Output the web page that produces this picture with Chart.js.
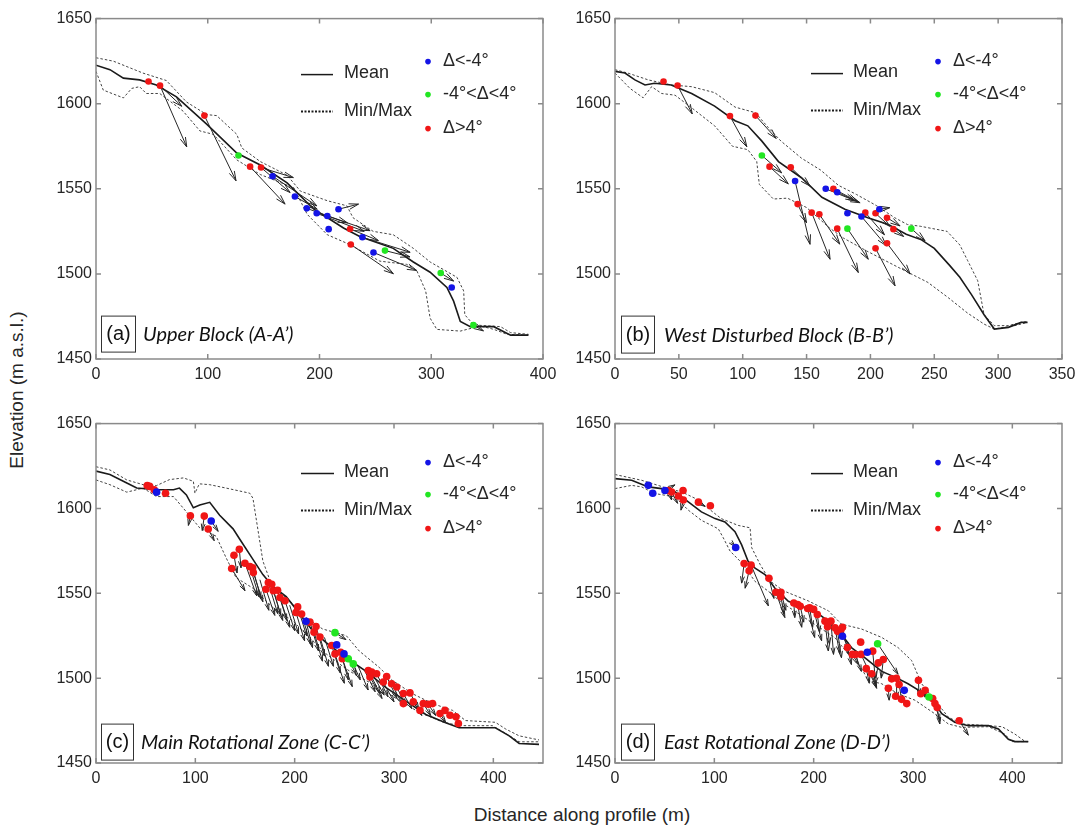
<!DOCTYPE html>
<html>
<head>
<meta charset="utf-8">
<script src="https://cdn.jsdelivr.net/npm/chart.js@4.4.0/dist/chart.umd.min.js"></script>
<style>
  body { margin: 0; background: #fff; width: 1083px; height: 833px; position: relative; overflow: hidden; font-family: "Liberation Sans", Arial, sans-serif; }
  canvas { position: absolute; }
  .axt { position: absolute; white-space: nowrap; color: #262626; font-size: 19px; transform: translate(-50%, -50%); }
  #ylab { left: 17px; top: 390px; transform: translate(-50%, -50%) rotate(-90deg); }
  #xlab { left: 582px; top: 815px; }
</style>
</head>
<body>
<canvas id="pa" width="527" height="384" style="left:36px;top:5px"></canvas>
<canvas id="pb" width="527" height="384" style="left:555px;top:5px"></canvas>
<canvas id="pc" width="527" height="383" style="left:36px;top:410px"></canvas>
<canvas id="pd" width="527" height="383" style="left:555px;top:410px"></canvas>
<div class="axt" id="ylab">Elevation (m a.s.l.)</div>
<div class="axt" id="xlab">Distance along profile (m)</div>
<script>
// ---- (a) Upper Block ----
var aMean = [[0,1622.6],[12.5,1620],[24.5,1615],[39,1614],[54,1611],[72,1604],[99,1588],[126,1571],[147,1564],[171,1553.5],[195,1538],[221.5,1527],[236,1522],[266,1515],[284,1507],[299,1501],[314,1492],[320,1484],[326,1472],[335,1469],[356,1469],[371,1464],[387,1464]];
var aMax = [[0,1627],[15.5,1625],[42,1618],[63,1613.6],[81,1601],[99,1593.6],[108,1593],[126,1582],[130.5,1574],[147,1566],[171,1558],[183,1548.6],[207,1543],[224.5,1540],[230,1533],[248,1525],[266,1523],[284,1515],[299,1507],[323,1498],[329,1490],[330,1476],[338,1470],[362,1469],[371,1465.5],[387,1464.5]];
var aMin = [[0,1619],[6.5,1608],[24.5,1603.4],[32,1609],[39,1610],[45,1606],[57,1606],[78,1595.6],[93,1584],[105,1582],[126,1567],[147,1558.4],[177,1550.6],[189,1535],[207,1523],[224.5,1518],[236,1514],[254,1507.5],[278,1505.6],[287,1502],[295,1490],[299,1474],[305,1467.4],[326,1466.4],[344,1469.4],[356,1467.4],[368,1464.5],[387,1464]];
var aBlue = [[158,1557.4],[178,1545.5],[188.6,1538.5],[197.5,1535.6],[207,1534],[208.2,1526.3],[217,1538],[238.4,1521.5],[248.3,1512.6],[318.3,1492]];
var aGreen = [[127.5,1569.6],[258.6,1513.7],[308.5,1500.5],[337.7,1469.9]];
var aRed = [[47,1613],[57.3,1610.6],[97,1593],[137.9,1563],[147.7,1562.5],[227.4,1526.4],[228,1517.3]];
var aArrows = [[57.3,1610.6,81.2,1574.6],[57.3,1610.6,76.7,1598.5],[97,1593,125.3,1554.7],[137.9,1563,169.2,1541],[147.7,1562.5,173.7,1547.8],[150,1562,176.6,1556.6],[158,1557.4,197.6,1540],[178,1545.5,198,1538],[188.6,1538.5,225,1530],[197.5,1535.6,240,1525],[207,1534,245.3,1525.4],[217,1538,234.9,1541],[227.4,1526.4,252.7,1519.6],[238.4,1521.5,281.1,1512.7],[228,1517.3,266.1,1500.1],[248.3,1512.6,287,1502],[258.6,1513.7,281,1510],[308.5,1500.5,320,1495.8],[337.7,1469.9,346.7,1466.5]];

// ---- (b) West Disturbed Block ----
var bMean = [[0,1619],[7.8,1618],[15.6,1614],[23.5,1611],[31,1612],[44,1611],[60,1606],[78,1598.6],[94,1590],[104,1587],[115,1578],[128,1566],[146,1556.5],[162,1545],[180,1538],[198,1533],[214,1529],[228,1523.3],[240,1520],[250,1515],[262,1505],[270,1498],[279,1488],[289,1476],[297,1467.6],[308,1468.6],[318,1471.5],[323,1471.5]];
var bMax = [[0,1620],[10,1618],[26,1614],[44,1611],[60,1610],[78,1606.5],[94,1598],[110,1594.7],[120,1586],[130,1578],[146,1568],[161,1561],[175,1552],[189,1546.7],[205,1540],[219,1533],[229,1529],[239,1528],[260,1525],[270,1517],[276,1508],[284,1496],[289,1476],[297,1469.6],[308,1469.6],[318,1471.5],[323,1472]];
var bMin = [[0,1618],[11.7,1609],[22,1603.5],[28.7,1610],[36.5,1606],[47,1605],[60,1597.6],[78,1587],[92,1575],[104,1573],[111,1566],[113,1552.6],[124,1544],[135,1544.5],[150,1539],[168,1527],[179,1521],[197,1513.5],[224,1503],[245,1495],[261,1486],[276,1477],[289,1470.5],[297,1467.6],[313,1469.6],[323,1471.5]];
var bBlue = [[141,1554.6],[165,1550],[174,1548],[182,1535.6],[193,1533.7],[207,1538]];
var bGreen = [[115,1569.6],[182,1526.6],[232,1526.6]];
var bRed = [[38,1613],[49,1610.7],[90,1592.7],[110,1593],[121,1563],[137.6,1562.6],[143,1541],[154,1536],[160,1535],[171,1550],[174,1526.6],[196,1536],[204,1535.6],[204,1515],[213,1533],[213,1518],[218,1526.3]];
var bArrows = [[49,1610.7,60.5,1594],[90,1592.7,103.2,1574.7],[110,1593,126.2,1579.6],[115,1569.6,130.5,1559.4],[121,1563,135.7,1552.9],[137.6,1562.6,152.7,1551.6],[141,1554.6,152.7,1517.4],[143,1541,150,1530],[154,1536,168.4,1508.6],[160,1535,176,1517.5],[165,1550,191.9,1541.8],[171,1550,190,1542.5],[174,1548,188,1543],[174,1526.6,190.5,1500.8],[182,1526.6,198.3,1508.6],[193,1533.7,212.5,1516.5],[196,1536,211,1523],[204,1535.6,215,1528],[204,1515,219.3,1493],[213,1518,231.1,1499.9],[207,1538,215.1,1538.9],[213,1533,223.2,1528.2],[218,1526.3,226,1522],[232,1526.6,242.8,1519.4]];

// ---- (c) Main Rotational Zone ----
var cMean = [[0,1622],[14,1620],[31,1615],[41,1612],[61,1611],[78,1611],[84,1612],[91,1608],[98,1600.4],[104.5,1602],[114.5,1603.6],[124.5,1596],[138,1588],[144.6,1582],[158,1570],[168,1561],[178,1554],[191.5,1548],[205,1538],[218,1528],[231.7,1521],[251.8,1512],[272,1504],[292,1494.4],[312,1486.5],[332,1478.6],[352,1473.7],[365.6,1470.8],[385.7,1470.8],[402,1470.8],[416,1466],[426,1461.5],[446,1461]];
var cMax = [[0,1624.6],[14,1622.7],[31,1616.8],[47.5,1614],[61,1613.5],[74,1617],[88,1618],[98,1616],[99.6,1609],[104,1614.5],[114.5,1614],[131,1612],[154.7,1609],[158,1606],[168,1569],[178,1553],[191.5,1547.5],[211.5,1535.7],[228,1529],[252,1525],[265,1516],[285,1506.4],[298.6,1498.6],[318.7,1490.8],[338.8,1485],[359,1481],[372,1475],[402,1474],[412.5,1470],[426,1466],[446,1463.6]];
var cMin = [[0,1616.8],[14,1614],[31,1609.6],[47.5,1612],[61,1607],[78,1607],[91,1598],[104.5,1588.5],[121,1583.6],[131,1570.9],[141,1559.2],[158,1553],[178,1541.6],[198,1533.8],[211.5,1526],[231.7,1514.3],[251.8,1505.5],[265,1500.6],[285,1494.7],[305,1486.9],[325,1480],[348.8,1474.2],[365.6,1472],[399,1472],[412.5,1467.4],[426,1462.5],[446,1462.5]];
var cBlue = [[61,1609.6],[116,1592.6],[211.4,1533.5],[242.3,1519.6],[249.7,1514.3]];
var cGreen = [[240.6,1526.8],[254,1511.4],[259,1508.4]];
var cRed = [[51.6,1613.5],[54,1613],[58.6,1611],[70,1609],[95,1595.7],[109,1595.5],[113,1587.9],[136.6,1564.6],[138.9,1572.4],[144.3,1575.9],[150,1567.7],[155,1565.7],[157.7,1565],[158.4,1562.2],[171.1,1552.4],[173.5,1556.3],[176.9,1555.3],[178.5,1551.5],[182.8,1551.8],[185.2,1547.5],[190.3,1545.6],[201.3,1538.7],[203,1542],[207,1537.8],[215.4,1533],[219.5,1527.1],[221.5,1530.4],[225.5,1524.2],[237.3,1519.2],[240.6,1514.3],[246.3,1515.3],[248,1511.4],[274.1,1504.5],[275.8,1500.7],[277.5,1503.6],[282.5,1502.6],[289.2,1497.7],[292.6,1501],[297.6,1496.7],[302.7,1494.8],[309.4,1490.9],[309.4,1485],[316.1,1491.3],[319.4,1486],[326.2,1481],[329.5,1485],[334.5,1484.6],[338.8,1485],[346.3,1479.1],[351.3,1481],[356.4,1478.1],[362.4,1477.2],[364.8,1473.3]];
var cArrows = [[95,1595.7,93,1590],[109,1595.5,107,1587],[113,1587.9,119,1581],[116,1592.6,123,1586.5],[136.6,1564.6,150,1551.5],[138.9,1572.4,142,1562],[144.3,1575.9,146,1565],[150,1567.7,161.8,1548.5],[155,1565.7,164,1548],[157.7,1565,166,1547],[158.4,1562.2,168,1545],[165,1558,174,1540],[171.1,1552.4,180,1537],[173.5,1556.3,183,1538],[176.9,1555.3,186,1537],[178.5,1551.5,188,1534],[182.8,1551.8,192,1534],[185.2,1547.5,195,1530],[190.3,1545.6,200,1528],[195,1543,204,1526],[201.3,1538.7,210,1522],[203,1542,212,1525],[207,1537.8,216,1520],[211.4,1533.5,218,1518],[215.4,1533,224,1516],[219.5,1527.1,228,1510],[221.5,1530.4,230,1513],[225.5,1524.2,234,1507],[230,1524,239,1507],[237.3,1519.2,246,1503],[240.6,1514.3,250,1497],[240.6,1526.8,251.7,1522.7],[246.3,1515.3,254,1499],[248,1511.4,258,1495],[254,1511.4,262,1502],[259,1508.4,266,1499],[264,1507,274,1493],[270,1505,281,1492],[274.1,1504.5,286,1491],[275.8,1500.7,288,1488],[277.5,1503.6,290,1490],[282.5,1502.6,294,1489],[289.2,1497.7,300,1486],[292.6,1501,303,1488],[297.6,1496.7,308,1485],[302.7,1494.8,312,1484],[309.4,1490.9,318,1482],[316.1,1491.3,325,1482],[319.4,1486,328,1478],[329.5,1485,337,1478],[334.5,1484.6,342,1478],[346.3,1479.1,352,1474]];

// ---- (d) East Rotational Zone ----
var dMean = [[0,1617.6],[16.8,1616.6],[33.5,1612.7],[47,1611.7],[60.4,1609.8],[73.8,1603.9],[87,1598],[100.7,1594],[110.7,1592],[120.8,1586.3],[127.5,1578.5],[134,1568.8],[141,1564.8],[151,1561],[161,1553],[174.5,1545.3],[188,1542.4],[201,1539.5],[214.8,1533.6],[228,1525.8],[238,1518],[251.7,1512],[268.5,1504],[282,1500.6],[295,1496.7],[308.7,1491.8],[322,1485],[329,1479],[342,1474],[355.7,1472],[376,1472],[386,1470],[396,1464],[402.7,1462.6],[416,1462.6]];
var dMax = [[0,1620],[26.8,1616.6],[53.7,1611.7],[67,1609.8],[80.5,1606],[94,1600],[107,1594],[124,1590],[136,1588.6],[137.6,1576.9],[146,1567.1],[156,1557.3],[169.5,1551.5],[194.6,1545.5],[214.8,1539.7],[228,1531.8],[248,1529],[268.5,1524],[285,1518],[298.6,1510.4],[308.7,1496.7],[322,1487],[335.6,1477],[349,1473],[376,1472],[389.6,1471.4],[402.7,1467],[413,1462.6]];
var dMin = [[0,1611.7],[16.8,1613.6],[26.8,1612.7],[40,1608.8],[60.4,1606.8],[73.8,1599],[87,1593],[104,1588],[109,1582.7],[115.8,1574.9],[127.5,1568],[141,1557],[154.4,1551.2],[168,1544.4],[181,1539.5],[201,1531.7],[221.5,1523.8],[235,1514],[248,1506],[255,1498.6],[268.5,1496.7],[285,1490.8],[302,1487],[322,1479],[335.6,1473],[349,1471],[376,1471.4],[392.6,1467],[399,1462.6],[416,1462.6]];
var dBlue = [[33.5,1613.6],[38,1609],[50.3,1610.6],[121.5,1577],[229,1524.7],[254,1515.3],[291.2,1492.8]];
var dGreen = [[264.4,1520.3],[316.1,1488.9]];
var dRed = [[53.7,1610.6],[57,1609.7],[63.8,1607.3],[68.5,1610.6],[68.8,1605],[84,1603.7],[96,1601.6],[130,1567.6],[137,1566.6],[135,1563.3],[155,1558.8],[162,1550.6],[167,1550.6],[167,1548],[180,1544.3],[183.9,1543.4],[186.5,1542.4],[194,1541],[196,1541.4],[200,1540.5],[203.7,1537.5],[211.4,1533.6],[214,1530.3],[217.4,1533.6],[221.5,1529.7],[224,1527.7],[227.5,1528.7],[229,1530],[234,1518],[239,1514],[242.1,1513.9],[247.3,1521.2],[247.7,1514],[253,1505.6],[258.4,1502.6],[259.4,1515.9],[265.1,1509],[270.1,1511],[275.2,1494],[278.5,1499.6],[283.4,1499.9],[282.5,1489.3],[286,1496.3],[288.5,1487.5],[293.7,1485],[305.5,1498.7],[312.2,1492.8],[307.8,1490.8],[319.8,1488],[322.1,1485],[324.4,1482.7],[346.5,1474.9]];
var dArrows = [[53.7,1610.6,57,1605],[50.3,1610.6,60.4,1613.9],[57,1609.7,63,1603],[68.8,1605,66.4,1599],[84,1603.7,90.6,1601.2],[117,1580,121,1577.5],[130,1567.6,127.5,1556],[135,1563.3,131,1553],[137,1566.6,154.4,1542.6],[155,1558.8,160,1547],[162,1550.6,171,1535.7],[167,1548,170,1538],[167,1550.6,172,1540],[180,1544.3,181,1535.7],[183.9,1543.4,188,1530],[186.5,1542.4,190,1533],[194,1541,201,1524],[196,1541.4,199,1530],[200,1540.5,208,1522],[203.7,1537.5,206,1527],[211.4,1533.6,214.8,1516],[214,1530.3,216,1520],[217.4,1533.6,220,1514],[221.5,1529.7,226,1515],[224,1527.7,228,1512],[229,1530,235,1514],[229,1524.7,236,1517],[234,1518,238,1508],[239,1514,245,1508],[242.1,1513.9,248,1504],[247.7,1514,263,1494.7],[253,1505.6,256,1497],[258.4,1502.6,263.4,1494],[259.4,1515.9,262,1500],[264.4,1520.3,285,1502.3],[265.1,1509,262,1496.7],[270.1,1511,268,1500],[275.2,1494,276,1487],[283.4,1499.9,283.6,1488],[286,1496.3,289,1486],[305.5,1498.7,306,1490],[312.2,1492.8,312,1488.8],[322.1,1485,327,1475],[324.4,1482.7,327,1473],[346.5,1474.9,355.7,1466.4]];

var yTicks = { min: 1450, max: 1650, step: 50 };
var colRed = '#f01616', colGreen = '#22e622', colBlue = '#1414e6';
var tickFont = { family: '"Liberation Sans", Arial, sans-serif', size: 16 };

function pts(a) {
  return a.map(function (p) { return { x: p[0], y: p[1] }; });
}

function drawArrows(chart, list, head) {
  var ctx = chart.ctx, xs = chart.scales.x, ys = chart.scales.y;
  ctx.save();
  ctx.strokeStyle = '#262626';
  ctx.lineWidth = 1;
  list.forEach(function (a) {
    var x0 = xs.getPixelForValue(a[0]), y0 = ys.getPixelForValue(a[1]);
    var x1 = xs.getPixelForValue(a[2]), y1 = ys.getPixelForValue(a[3]);
    var ang = Math.atan2(y1 - y0, x1 - x0), w = 0.28;
    ctx.beginPath();
    ctx.moveTo(x0, y0);
    ctx.lineTo(x1, y1);
    ctx.moveTo(x1 - head * Math.cos(ang - w), y1 - head * Math.sin(ang - w));
    ctx.lineTo(x1, y1);
    ctx.lineTo(x1 - head * Math.cos(ang + w), y1 - head * Math.sin(ang + w));
    ctx.stroke();
  });
  ctx.restore();
}

var deco = {
  id: 'deco',
  beforeDatasetDraw: function (chart, args, o) {
    // arrows go above the profile lines but under the dots
    if (args.index === 2) drawArrows(chart, o.arrows, o.head);
  },
  afterDraw: function (chart, args, o) {
    var ctx = chart.ctx, a = chart.chartArea, xs = chart.scales.x, ys = chart.scales.y;
    var L = a.left, T = a.top;
    ctx.save();
    // frame + inward ticks on all sides
    ctx.strokeStyle = '#8a8a8a';
    ctx.lineWidth = 1.5;
    ctx.strokeRect(L, T, a.right - L, a.bottom - T);
    ctx.beginPath();
    xs.ticks.forEach(function (t) {
      var px = xs.getPixelForValue(t.value);
      ctx.moveTo(px, a.bottom); ctx.lineTo(px, a.bottom - 5);
      ctx.moveTo(px, T); ctx.lineTo(px, T + 5);
    });
    ys.ticks.forEach(function (t) {
      var py = ys.getPixelForValue(t.value);
      ctx.moveTo(L, py); ctx.lineTo(L + 5, py);
      ctx.moveTo(a.right, py); ctx.lineTo(a.right - 5, py);
    });
    ctx.stroke();

    // legend
    var g = o.leg;
    ctx.fillStyle = '#262626';
    ctx.font = '18px "Liberation Sans", Arial, sans-serif';
    ctx.textBaseline = 'middle';
    ctx.strokeStyle = '#1a1a1a';
    ctx.lineWidth = 1.5;
    ctx.beginPath(); ctx.moveTo(L + g.lx0, T + g.meanY); ctx.lineTo(L + g.lx1, T + g.meanY); ctx.stroke();
    ctx.setLineDash([2, 1.5]);
    ctx.lineWidth = 2;
    ctx.beginPath(); ctx.moveTo(L + g.lx0, T + g.mmY); ctx.lineTo(L + g.lx1, T + g.mmY); ctx.stroke();
    ctx.setLineDash([]);
    ctx.fillText('Mean', L + g.tx, T + g.meanY - 2);
    ctx.fillText('Min/Max', L + g.tx, T + g.mmY - 1);
    var labs = ['\u0394<-4\u00b0', '-4\u00b0<\u0394<4\u00b0', '\u0394>4\u00b0'];
    var cols = [colBlue, colGreen, colRed];
    for (var i = 0; i < 3; i++) {
      ctx.fillStyle = cols[i];
      ctx.beginPath(); ctx.arc(L + g.dx, T + g.dY[i], 2.8, 0, Math.PI * 2); ctx.fill();
      ctx.fillStyle = '#262626';
      ctx.fillText(labs[i], L + g.dtx, T + g.dY[i] - 1);
    }

    // panel label
    var b = o.box;
    ctx.strokeStyle = '#333';
    ctx.lineWidth = 1;
    ctx.strokeRect(L + b.x + 0.5, T + b.y + 0.5, b.w, b.h);
    ctx.fillStyle = '#111';
    ctx.font = '20px "Liberation Sans", Arial, sans-serif';
    ctx.textAlign = 'center';
    ctx.fillText(o.tag, L + b.x + b.w / 2 + 0.5, T + b.y + b.h / 2 + 1);
    ctx.textAlign = 'left';
    ctx.font = 'italic 20px Lato, "Open Sans", sans-serif';
    ctx.fillText(o.title, L + o.tx, T + b.y + b.h / 2 + 1);
    ctx.restore();
  }
};

function makePanel(id, p) {
  var dotR = p.dotR;
  var dots = function (data, col) {
    return { data: pts(data), showLine: false, pointRadius: dotR, pointBorderWidth: 0, backgroundColor: col, borderColor: col };
  };
  var line = function (data, col, w, dash) {
    return { data: pts(data), showLine: true, pointRadius: 0, borderColor: col, borderWidth: w, borderDash: dash, tension: 0, fill: false };
  };
  return new Chart(document.getElementById(id), {
    type: 'scatter',
    data: {
      datasets: [
        dots(p.blue, colBlue),
        dots(p.green, colGreen),
        dots(p.red, colRed),
        line(p.mean, '#1a1a1a', 1.6, []),
        line(p.max, '#444', 1, [2.5, 2]),
        line(p.min, '#444', 1, [2.5, 2])
      ]
    },
    options: {
      responsive: false,
      animation: false,
      devicePixelRatio: 1,
      events: [],
      layout: { padding: { top: 12, right: 20, left: 0, bottom: 0 } },
      scales: {
        x: {
          type: 'linear', min: 0, max: p.xMax,
          ticks: { stepSize: p.xStep, includeBounds: false, font: tickFont, color: '#262626', padding: 6, maxRotation: 0,
            callback: function (v) { return String(v); } },
          grid: { display: false, drawTicks: false },
          border: { display: false },
          afterFit: function (s) { s.height = 30; }
        },
        y: {
          type: 'linear', min: yTicks.min, max: yTicks.max,
          ticks: { stepSize: yTicks.step, font: tickFont, color: '#262626', padding: 4,
            callback: function (v) { return String(v); } },
          grid: { display: false, drawTicks: false },
          border: { display: false },
          afterFit: function (s) { s.width = 60; }
        }
      },
      plugins: {
        legend: { display: false },
        tooltip: { enabled: false },
        deco: { arrows: p.arrows, head: p.head, leg: p.leg, box: p.box, tag: p.tag, title: p.title, tx: p.tx }
      }
    },
    plugins: [deco]
  });
}

var legTopA = { lx0: 205, lx1: 237, meanY: 56, mmY: 93, tx: 248, dx: 332, dY: [43, 76, 110], dtx: 347 };
var legTopB = { lx0: 196, lx1: 228, meanY: 55, mmY: 92, tx: 238, dx: 323, dY: [43, 76, 110], dtx: 338 };
var legBotC = { lx0: 205, lx1: 238, meanY: 50, mmY: 87, tx: 248, dx: 332, dY: [39, 71, 105], dtx: 347 };
var legBotD = { lx0: 196, lx1: 228, meanY: 50, mmY: 87, tx: 238, dx: 323, dY: [39, 71, 105], dtx: 338 };

makePanel('pa', { mean: aMean, max: aMax, min: aMin, blue: aBlue, green: aGreen, red: aRed, arrows: aArrows,
  xMax: 400, xStep: 100, dotR: 3.3, head: 10, leg: legTopA, box: { x: 5, y: 297, w: 34, h: 36 }, tag: '(a)', title: 'Upper Block (A-A\u2019)', tx: 47 });
makePanel('pb', { mean: bMean, max: bMax, min: bMin, blue: bBlue, green: bGreen, red: bRed, arrows: bArrows,
  xMax: 350, xStep: 50, dotR: 3.3, head: 10, leg: legTopB, box: { x: 6, y: 297, w: 33, h: 37 }, tag: '(b)', title: 'West Disturbed Block (B-B\u2019)', tx: 49 });
makePanel('pc', { mean: cMean, max: cMax, min: cMin, blue: cBlue, green: cGreen, red: cRed, arrows: cArrows,
  xMax: 450, xStep: 100, dotR: 3.8, head: 7, leg: legBotC, box: { x: 5, y: 300, w: 32, h: 36 }, tag: '(c)', title: 'Main Rotational Zone (C-C\u2019)', tx: 45 });
makePanel('pd', { mean: dMean, max: dMax, min: dMin, blue: dBlue, green: dGreen, red: dRed, arrows: dArrows,
  xMax: 450, xStep: 100, dotR: 3.8, head: 7, leg: legBotD, box: { x: 6, y: 300, w: 33, h: 36 }, tag: '(d)', title: 'East Rotational Zone (D-D\u2019)', tx: 49 });
</script>
</body>
</html>
